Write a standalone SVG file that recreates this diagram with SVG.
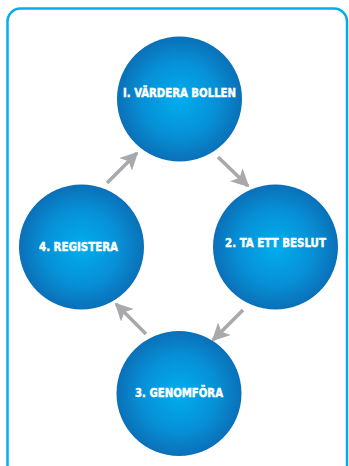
<svg xmlns="http://www.w3.org/2000/svg" width="349" height="466" viewBox="0 0 349 466">
<defs>
<radialGradient id="g" cx="50%" cy="50%" r="50%">
<stop offset="0" stop-color="#00aeef"/>
<stop offset="0.6" stop-color="#0790d6"/>
<stop offset="1" stop-color="#0a70b8"/>
</radialGradient>
<marker id="ah" viewBox="0 0 10 10" refX="9" refY="5" markerWidth="5" markerHeight="5.4" markerUnits="strokeWidth" orient="auto">
<path d="M0,0 L10,5 L0,10 L2.5,5 Z" fill="#a7a9ac"/>
</marker>
<style>
.n{fill:url(#g)}
.t{font-family:"DejaVu Sans Condensed","DejaVu Sans",sans-serif;font-weight:bold;font-size:13px;fill:#fff;stroke:#fff;stroke-width:0.45;text-anchor:middle}
.c{stroke:#a7a9ac;stroke-width:3.6;fill:none;marker-end:url(#ah)}
</style>
</defs>
<rect x="7.5" y="8.5" width="339.5" height="470" rx="13" fill="none" stroke="#00aeef" stroke-width="2.5"/>
<g id="connectors">
<line class="c" x1="107" y1="183" x2="137" y2="153"/>
<line class="c" x1="218" y1="157" x2="248" y2="186"/>
<line class="c" x1="243" y1="310" x2="213" y2="340"/>
<line class="c" x1="146" y1="334" x2="116" y2="304"/>
</g>
<g id="n1"><circle class="n" cx="179.5" cy="99" r="62.5"/><text class="t" x="179.5" y="96.5" textLength="113" lengthAdjust="spacingAndGlyphs">I. VÄRDERA BOLLEN</text></g>
<g id="n2"><circle class="n" cx="275.5" cy="247" r="62.5"/><text class="t" x="275.5" y="247" textLength="101" lengthAdjust="spacingAndGlyphs">2. TA ETT BESLUT</text></g>
<g id="n3"><circle class="n" cx="179" cy="393.5" r="62.5"/><text class="t" x="179" y="397" textLength="88" lengthAdjust="spacingAndGlyphs">3. GENOMFÖRA</text></g>
<g id="n4"><circle class="n" cx="81.5" cy="247" r="62.5"/><text class="t" x="78.5" y="251" textLength="79" lengthAdjust="spacingAndGlyphs">4. REGISTERA</text></g>
</svg>
